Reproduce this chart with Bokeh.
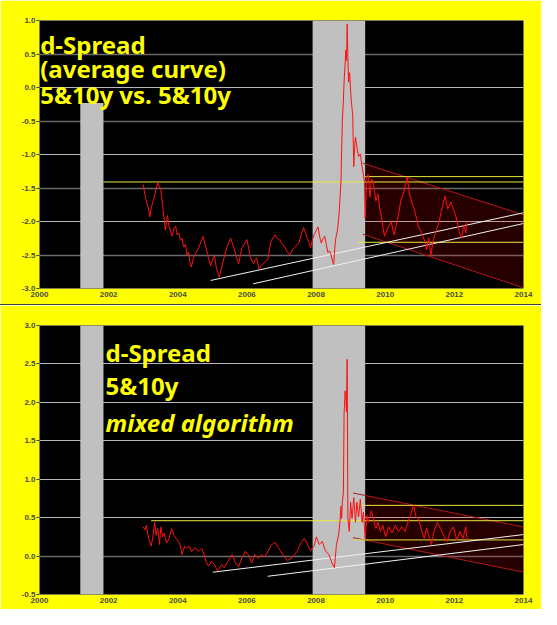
from bokeh.plotting import figure
from bokeh.models import Label, Grid, FixedTicker, PrintfTickFormatter, Range1d
from bokeh.layouts import column
from bokeh.embed import file_html
from bokeh.resources import INLINE

# ---------------- data ----------------
top_years = [2003.00, 2003.05, 2003.10, 2003.15, 2003.19, 2003.24, 2003.28, 2003.33, 2003.38, 2003.42,
             2003.47, 2003.51, 2003.56, 2003.60, 2003.64, 2003.70, 2003.75, 2003.80, 2003.84, 2003.89,
             2003.94, 2003.98, 2004.03, 2004.08, 2004.12, 2004.17, 2004.22, 2004.27, 2004.31, 2004.35,
             2004.39, 2004.45, 2004.50, 2004.55, 2004.61, 2004.67, 2004.73, 2004.78, 2004.83, 2004.89,
             2004.95, 2005.00, 2005.06, 2005.12, 2005.20, 2005.27, 2005.34, 2005.40, 2005.47, 2005.53,
             2005.58, 2005.62, 2005.69, 2005.76, 2005.81, 2005.86, 2005.93, 2006.00, 2006.05, 2006.09,
             2006.14, 2006.19, 2006.24, 2006.28, 2006.35, 2006.41, 2006.47, 2006.54, 2006.61, 2006.66,
             2006.70, 2006.76, 2006.81, 2006.88, 2006.94, 2007.01, 2007.08, 2007.16, 2007.24, 2007.30,
             2007.36, 2007.43, 2007.50, 2007.57, 2007.64, 2007.70, 2007.75, 2007.80, 2007.84, 2007.89,
             2007.94, 2008.00, 2008.06, 2008.10, 2008.15, 2008.20, 2008.25, 2008.30, 2008.34, 2008.39,
             2008.43, 2008.47, 2008.51, 2008.54, 2008.57, 2008.62, 2008.67, 2008.72, 2008.74, 2008.76,
             2008.79, 2008.81, 2008.84, 2008.86, 2008.88, 2008.90, 2008.92, 2008.94, 2008.97, 2009.00,
             2009.02, 2009.06, 2009.09, 2009.12, 2009.14, 2009.18, 2009.23, 2009.28, 2009.33, 2009.37,
             2009.40, 2009.42, 2009.47, 2009.51, 2009.56, 2009.60, 2009.65, 2009.69, 2009.73, 2009.79,
             2009.84, 2009.89, 2009.94, 2009.98, 2010.03, 2010.07, 2010.12, 2010.17, 2010.22, 2010.26,
             2010.31, 2010.35, 2010.40, 2010.45, 2010.50, 2010.54, 2010.59, 2010.64, 2010.70, 2010.74,
             2010.78, 2010.83, 2010.87, 2010.92, 2010.96, 2011.01, 2011.06, 2011.11, 2011.15, 2011.20,
             2011.26, 2011.32, 2011.39, 2011.44, 2011.48, 2011.53, 2011.57, 2011.62, 2011.67, 2011.73,
             2011.77, 2011.81, 2011.86, 2011.90, 2011.95, 2011.99, 2012.03, 2012.07, 2012.14, 2012.21,
             2012.25, 2012.28, 2012.33, 2012.37]
top_values = [-1.45, -1.60, -1.72, -1.80, -1.93, -1.78, -1.71, -1.62, -1.50, -1.42,
              -1.48, -1.52, -1.75, -1.95, -2.13, -1.91, -2.08, -2.15, -2.22, -2.10,
              -2.07, -2.20, -2.17, -2.28, -2.25, -2.38, -2.34, -2.50, -2.46, -2.60,
              -2.68, -2.55, -2.49, -2.44, -2.39, -2.30, -2.22, -2.33, -2.42, -2.55,
              -2.66, -2.58, -2.51, -2.70, -2.83, -2.68, -2.54, -2.42, -2.32, -2.25,
              -2.33, -2.39, -2.52, -2.63, -2.50, -2.39, -2.33, -2.27, -2.40, -2.51,
              -2.58, -2.63, -2.57, -2.54, -2.71, -2.66, -2.63, -2.60, -2.56, -2.40,
              -2.29, -2.24, -2.20, -2.25, -2.27, -2.33, -2.37, -2.45, -2.50, -2.44,
              -2.39, -2.36, -2.32, -2.20, -2.09, -2.18, -2.25, -2.33, -2.39, -2.28,
              -2.20, -2.14, -2.08, -2.22, -2.32, -2.26, -2.22, -2.35, -2.46, -2.44,
              -2.49, -2.58, -2.64, -2.40, -2.25, -2.13, -1.86, -1.40, -0.95, -0.50,
              -0.20, 0.08, 0.35, 0.56, 0.40, 0.95, 0.45, 0.08, 0.22, -0.05,
              -0.21, -0.41, -1.18, -0.85, -0.74, -0.89, -1.03, -0.99, -1.18, -1.30,
              -1.42, -1.95, -1.32, -1.30, -1.64, -1.37, -1.40, -1.55, -1.69, -1.59,
              -1.80, -1.93, -2.10, -2.22, -2.15, -2.10, -2.05, -2.00, -2.12, -2.20,
              -2.08, -1.98, -1.85, -1.69, -1.62, -1.55, -1.45, -1.34, -1.59, -1.65,
              -1.74, -1.80, -1.88, -1.98, -2.08, -2.12, -2.17, -2.25, -2.30, -2.42,
              -2.25, -2.51, -2.27, -2.20, -2.13, -2.05, -1.98, -1.85, -1.74, -1.62,
              -1.72, -1.81, -1.76, -1.71, -1.78, -1.84, -1.90, -1.98, -2.15, -2.25,
              -2.12, -2.05, -2.17, -2.00]

bot_years = [2003.00, 2003.05, 2003.09, 2003.13, 2003.17, 2003.23, 2003.28, 2003.33, 2003.37, 2003.42,
             2003.47, 2003.51, 2003.56, 2003.61, 2003.67, 2003.75, 2003.82, 2003.89, 2003.98, 2004.03,
             2004.08, 2004.12, 2004.20, 2004.26, 2004.33, 2004.40, 2004.50, 2004.59, 2004.69, 2004.76,
             2004.83, 2004.89, 2004.97, 2005.06, 2005.15, 2005.27, 2005.34, 2005.45, 2005.57, 2005.67,
             2005.76, 2005.86, 2005.95, 2006.04, 2006.14, 2006.23, 2006.33, 2006.42, 2006.51, 2006.61,
             2006.70, 2006.81, 2006.91, 2007.03, 2007.17, 2007.31, 2007.45, 2007.56, 2007.66, 2007.75,
             2007.84, 2007.94, 2008.01, 2008.09, 2008.18, 2008.27, 2008.37, 2008.46, 2008.53, 2008.59,
             2008.65, 2008.69, 2008.72, 2008.74, 2008.76, 2008.79, 2008.81, 2008.84, 2008.86, 2008.88,
             2008.90, 2008.92, 2008.96, 2009.00, 2009.04, 2009.09, 2009.14, 2009.18, 2009.23, 2009.28,
             2009.33, 2009.37, 2009.42, 2009.47, 2009.51, 2009.60, 2009.65, 2009.73, 2009.79, 2009.86,
             2009.93, 2010.01, 2010.10, 2010.20, 2010.29, 2010.38, 2010.48, 2010.57, 2010.66, 2010.73,
             2010.82, 2010.89, 2010.96, 2011.06, 2011.13, 2011.20, 2011.26, 2011.34, 2011.41, 2011.51,
             2011.60, 2011.69, 2011.79, 2011.88, 2011.97, 2012.07, 2012.16, 2012.25, 2012.33, 2012.37]
bot_values = [0.38, 0.34, 0.40, 0.30, 0.21, 0.13, 0.25, 0.44, 0.27, 0.36,
              0.15, 0.38, 0.25, 0.30, 0.17, 0.23, 0.36, 0.27, 0.21, 0.18,
              0.13, 0.02, 0.13, 0.10, 0.13, 0.06, 0.11, 0.06, 0.10, 0.02,
              -0.09, -0.13, -0.07, -0.11, -0.19, -0.11, -0.15, -0.07, 0.02, -0.09,
              -0.14, -0.02, 0.06, 0.02, -0.09, 0.02, -0.03, 0.02, -0.01, 0.06,
              0.14, 0.18, 0.11, 0.03, -0.06, -0.02, 0.06, 0.17, 0.23, 0.15,
              0.07, 0.13, 0.25, 0.15, 0.19, 0.07, 0.02, -0.09, -0.15, 0.15,
              0.27, 0.44, 0.65, 0.49, 0.70, 0.82, 1.84, 2.15, 2.05, 1.88,
              2.56, 0.49, 0.32, 0.70, 0.49, 0.76, 0.44, 0.70, 0.51, 0.74,
              0.44, 0.57, 0.23, 0.53, 0.44, 0.59, 0.49, 0.36, 0.44, 0.32,
              0.40, 0.25, 0.38, 0.30, 0.40, 0.32, 0.38, 0.32, 0.44, 0.53,
              0.66, 0.51, 0.49, 0.32, 0.23, 0.36, 0.27, 0.15, 0.32, 0.44,
              0.36, 0.27, 0.19, 0.32, 0.38, 0.21, 0.32, 0.23, 0.38, 0.21]

# recession shading
rec_start = [2001.18, 2007.90]
rec_end = [2001.85, 2009.42]
top_rec_top = [-0.23, 1.0]

# horizontal (yellow) levels: start year, end year, level
top_lvl_x0 = [2001.85, 2009.42, 2009.20]
top_lvl_x1 = [2014.0, 2014.0, 2014.0]
top_lvl_y = [-1.41, -1.33, -2.31]
bot_lvl_x0 = [2003.23, 2009.30, 2009.10]
bot_lvl_x1 = [2014.0, 2014.0, 2014.0]
bot_lvl_y = [0.46, 0.66, 0.21]

# trend channels (upper/lower edges)
top_ch_x = [2009.35, 2014.0]
top_ch_up = [-1.13, -1.90]
top_ch_lo = [-2.19, -2.99]
bot_ch_x = [2009.07, 2014.0]
bot_ch_up = [0.82, 0.38]
bot_ch_lo = [0.24, -0.21]

# support lines (white)
top_sup_x0 = [2004.95, 2006.18]
top_sup_y0 = [-2.88, -2.93]
top_sup_y1 = [-1.87, -2.03]
bot_sup_x0 = [2005.01, 2006.60]
bot_sup_y0 = [-0.21, -0.263]
bot_sup_y1 = [0.28, 0.15]

x_ticks = [2000, 2002, 2004, 2006, 2008, 2010, 2012, 2014]
top_ticks = [-3.0, -2.5, -2.0, -1.5, -1.0, -0.5, 0.0, 0.5, 1.0]
bot_ticks = [-0.5, 0.0, 0.5, 1.0, 1.5, 2.0, 2.5, 3.0]

top_title = ["d-Spread", "(average curve)", "5&10y vs. 5&10y"]
top_title_y = [0.64, 0.29, -0.10]
bot_title = ["d-Spread", "5&10y", "mixed algorithm"]
bot_title_y = [2.645, 2.214, 1.732]
bot_style = ["bold", "bold", "bold italic"]

YELLOW = "#ffff00"
FONT = "Noto Sans"
TSIZE = "24px"


def make_panel(years, vals, ylo, yhi, yticks, light_grid, dark_grid, rec_top,
               lvl_x0, lvl_x1, lvl_y, ch_x, ch_up, ch_lo, sup_x0, sup_y0, sup_y1):
    p = figure(frame_width=484, frame_height=268, min_border_left=39, min_border_right=18,
               min_border_top=20, min_border_bottom=16,
               x_range=Range1d(2000, 2014), y_range=Range1d(ylo, yhi),
               output_backend="svg", toolbar_location=None)
    p.border_fill_color = YELLOW
    p.background_fill_color = "black"
    p.outline_line_color = None
    p.xgrid.grid_line_color = None
    p.ygrid.grid_line_color = None
    p.add_layout(Grid(dimension=1, ticker=FixedTicker(ticks=light_grid),
                      grid_line_color="#b8b8b8", grid_line_width=1))
    p.add_layout(Grid(dimension=1, ticker=FixedTicker(ticks=dark_grid),
                      grid_line_color="#6a6a6a", grid_line_width=1.5))
    for ax in (p.xaxis[0], p.yaxis[0]):
        ax.axis_line_color = None
        ax.major_tick_line_color = "#444444"
        ax.minor_tick_line_color = None
        ax.major_tick_in = 0
        ax.major_label_text_font = "Liberation Sans"
        ax.major_label_text_font_size = "8px"
        ax.major_label_text_font_style = "bold"
        ax.major_label_text_color = "#4a4a4a"
    p.xaxis.ticker = FixedTicker(ticks=x_ticks)
    p.xaxis.major_tick_out = 0
    p.xaxis.major_label_standoff = 3
    p.yaxis.ticker = FixedTicker(ticks=yticks)
    p.yaxis.major_tick_out = 3
    p.yaxis.major_label_standoff = 1
    p.yaxis.formatter = PrintfTickFormatter(format="%.1f")

    # channel fill
    p.patch(x=[ch_x[0], ch_x[1], ch_x[1], ch_x[0]],
            y=[ch_up[0], ch_up[1], ch_lo[1], ch_lo[0]],
            fill_color="#ff0000", fill_alpha=0.15, line_color=None)
    # recession bars
    p.quad(left=rec_start, right=rec_end, bottom=[ylo, ylo], top=rec_top,
           fill_color="#c0c0c0", line_color=None)
    # channel edges
    p.line(ch_x, ch_up, line_color="#b01818", line_width=1)
    p.line(ch_x, ch_lo, line_color="#b01818", line_width=1)
    # yellow levels
    p.segment(x0=lvl_x0, x1=lvl_x1, y0=lvl_y, y1=lvl_y, line_color="#e8e840", line_width=1)
    # white support lines
    p.segment(x0=sup_x0, x1=[2014.0, 2014.0], y0=sup_y0, y1=sup_y1,
              line_color="#f2f2f2", line_width=1)
    # series
    p.line(years, vals, line_color="#ff1010", line_width=1)
    return p


p1 = make_panel(top_years, top_values, -3.0, 1.0, top_ticks,
                [1.0, 0.0, -1.0, -2.0], [0.5, -0.5, -1.5, -2.5], top_rec_top,
                top_lvl_x0, top_lvl_x1, top_lvl_y, top_ch_x, top_ch_up, top_ch_lo,
                top_sup_x0, top_sup_y0, top_sup_y1)
p2 = make_panel(bot_years, bot_values, -0.5, 3.0, bot_ticks,
                [3.0, 2.5, 2.0, 1.5, 1.0, 0.5], [0.0], [3.0, 3.0],
                bot_lvl_x0, bot_lvl_x1, bot_lvl_y, bot_ch_x, bot_ch_up, bot_ch_lo,
                bot_sup_x0, bot_sup_y0, bot_sup_y1)
p2.styles = {"border-top": "1px solid #404040"}

# black boxes behind the top title (drawn first), then the text itself
for txt, yy in zip(top_title, top_title_y):
    p1.add_layout(Label(x=2000.02, y=yy, text=txt, text_font=FONT, text_font_size=TSIZE,
                        text_font_style="bold", text_alpha=0.0, text_baseline="alphabetic",
                        background_fill_color="black", padding=0))
for txt, yy in zip(top_title, top_title_y):
    p1.add_layout(Label(x=2000.02, y=yy, text=txt, text_font=FONT, text_font_size=TSIZE,
                        text_font_style="bold", text_color=YELLOW, text_baseline="alphabetic"))

for txt, yy, st in zip(bot_title, bot_title_y, bot_style):
    p2.add_layout(Label(x=2001.91, y=yy, text=txt, text_font=FONT, text_font_size=TSIZE,
                        text_font_style=st, text_color=YELLOW, text_baseline="alphabetic"))

layout = column(p1, p2, spacing=0)
open("out.html", "w").write(file_html(layout, INLINE))
